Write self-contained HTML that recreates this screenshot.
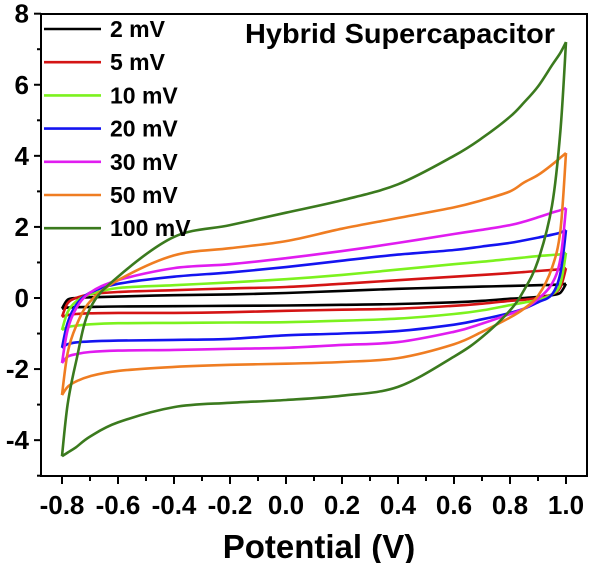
<!DOCTYPE html>
<html><head><meta charset="utf-8"><style>
html,body{margin:0;padding:0;background:#fff;}
svg{display:block;font-family:"Liberation Sans",Arial,sans-serif;font-weight:bold;}
</style></head><body>
<svg id="chart" width="590" height="563" viewBox="0 0 590 563"></svg>
<script>
const potentials = [-0.8,-0.78,-0.75,-0.7,-0.6,-0.4,-0.2,0,0.2,0.4,0.6,0.7,0.8,0.85,0.9,0.95,0.98,1.0];
const seriesNames = ["2 mV","5 mV","10 mV","20 mV","30 mV","50 mV","100 mV"];
const upper2 = [-0.3,-0.05,0.0,0.02,0.04,0.08,0.1,0.14,0.2,0.26,0.3,0.32,0.34,0.35,0.36,0.37,0.38,0.4];
const lower2 = [-0.3,-0.27,-0.26,-0.25,-0.24,-0.23,-0.22,-0.21,-0.19,-0.17,-0.12,-0.08,-0.02,0.0,0.03,0.08,0.15,0.4];
const upper5 = [-0.53,-0.15,0.0,0.1,0.17,0.22,0.27,0.31,0.4,0.5,0.6,0.65,0.7,0.73,0.76,0.79,0.81,0.84];
const lower5 = [-0.53,-0.48,-0.45,-0.43,-0.42,-0.42,-0.4,-0.36,-0.33,-0.3,-0.22,-0.16,-0.08,-0.05,0.0,0.1,0.3,0.84];
const upper10 = [-0.9,-0.4,-0.1,0.1,0.28,0.36,0.44,0.53,0.65,0.8,0.95,1.02,1.1,1.14,1.18,1.21,1.23,1.27];
const lower10 = [-0.9,-0.82,-0.78,-0.74,-0.71,-0.7,-0.69,-0.68,-0.64,-0.58,-0.45,-0.35,-0.2,-0.13,-0.05,0.1,0.4,1.27];
const upper20 = [-1.4,-0.7,-0.2,0.15,0.4,0.6,0.72,0.87,1.05,1.22,1.35,1.45,1.55,1.62,1.7,1.78,1.84,1.91];
const lower20 = [-1.4,-1.3,-1.25,-1.22,-1.2,-1.18,-1.15,-1.05,-1.0,-0.93,-0.75,-0.6,-0.42,-0.3,-0.12,0.1,0.7,1.91];
const upper30 = [-1.83,-0.9,-0.3,0.15,0.5,0.84,0.95,1.12,1.32,1.55,1.8,1.92,2.05,2.15,2.27,2.4,2.47,2.53];
const lower30 = [-1.83,-1.65,-1.58,-1.52,-1.48,-1.46,-1.43,-1.4,-1.32,-1.24,-0.95,-0.72,-0.45,-0.3,-0.03,0.4,1.1,2.53];
const upper50 = [-2.73,-1.55,-0.8,-0.1,0.5,1.2,1.4,1.6,1.95,2.25,2.55,2.75,3.0,3.25,3.46,3.75,3.95,4.08];
const lower50 = [-2.73,-2.5,-2.35,-2.2,-2.05,-1.94,-1.88,-1.85,-1.8,-1.69,-1.3,-0.95,-0.55,-0.3,0.06,0.85,1.9,4.08];
const upper100 = [-4.45,-3.0,-1.8,-0.3,0.6,1.72,2.05,2.4,2.75,3.2,4.0,4.5,5.1,5.5,5.95,6.55,6.9,7.2];
const lower100 = [-4.45,-4.35,-4.2,-3.9,-3.5,-3.07,-2.95,-2.87,-2.75,-2.5,-1.65,-1.1,-0.35,0.22,1.05,2.6,4.7,7.2];
const yTickLabels = ["-4","-2","0","2","4","6","8"];
const xTickLabels = ["-0.8","-0.6","-0.4","-0.2","0.0","0.2","0.4","0.6","0.8","1.0"];

const upperAll=[upper2,upper5,upper10,upper20,upper30,upper50,upper100];
const lowerAll=[lower2,lower5,lower10,lower20,lower30,lower50,lower100];
const colors=["#000000","#d41414","#7cf21e","#1414f0","#e01cf0","#ef7d22","#3b7a1e"];
const L=41,R=587,T=14,B=476;
const X=v=>62+(v+0.8)*280;
const Y=v=>298-v*35.54;
const NS="http://www.w3.org/2000/svg";
const svg=document.getElementById('chart');
function mk(tag,attrs,parent){const e=document.createElementNS(NS,tag);for(const k in attrs)e.setAttribute(k,attrs[k]);(parent||svg).appendChild(e);return e;}
function smooth(pts){let d="M"+pts[0][0].toFixed(1)+","+pts[0][1].toFixed(1);
 for(let i=0;i<pts.length-1;i++){const p0=pts[Math.max(0,i-1)],p1=pts[i],p2=pts[i+1],p3=pts[Math.min(pts.length-1,i+2)];
  const c1=[p1[0]+(p2[0]-p0[0])/6,p1[1]+(p2[1]-p0[1])/6],c2=[p2[0]-(p3[0]-p1[0])/6,p2[1]-(p3[1]-p1[1])/6];
  d+="C"+c1.map(n=>n.toFixed(1))+" "+c2.map(n=>n.toFixed(1))+" "+p2[0].toFixed(1)+","+p2[1].toFixed(1);}
 return d;}
for(let s=0;s<7;s++){
 const g=mk('g',{});
 
 
 const up=potentials.map((p,i)=>[X(p),Y(upperAll[s][i])]);
 const lo=potentials.map((p,i)=>[X(p),Y(lowerAll[s][i])]);
 const a=mk('path',{d:smooth(up),fill:'none',stroke:colors[s],'stroke-width':2.6,'stroke-linejoin':'round'},g);
 
 
 const b=mk('path',{d:smooth(lo),fill:'none',stroke:colors[s],'stroke-width':2.6,'stroke-linejoin':'round'},g);
 
 
}
const fr=mk('rect',{x:L,y:T,width:R-L,height:B-T,fill:'none',stroke:'#000','stroke-width':2});


for(let v=-5;v<=8;v++){
 const major=(v%2===0);
 mk('line',{x1:L,x2:L-(major?7:4),y1:Y(v),y2:Y(v),stroke:'#000','stroke-width':2});
}
yTickLabels.forEach(t=>{const e=mk('text',{x:29,y:Y(+t)+9,'text-anchor':'end','font-size':26});e.textContent=t;
 
 });
for(let i=0;i<=18;i++){const v=-0.8+i*0.1;const major=(i%2===0);
 mk('line',{x1:X(v),x2:X(v),y1:B,y2:B+(major?8:5),stroke:'#000','stroke-width':2});}
xTickLabels.forEach(t=>{const e=mk('text',{x:X(+t),y:514,'text-anchor':'middle','font-size':26});e.textContent=t;
 
 });
const xt=mk('text',{x:319,y:558,'text-anchor':'middle','font-size':33});xt.textContent="Potential (V)";


const tt=mk('text',{x:245,y:43,'font-size':28,textLength:310,lengthAdjust:'spacingAndGlyphs'});tt.textContent="Hybrid Supercapacitor";


for(let s=0;s<7;s++){const y=29+s*33.2;
 const g=mk('g',{});
 
 
 mk('line',{x1:44,x2:101,y1:y,y2:y,stroke:colors[s],'stroke-width':2.6},g);
 const t=mk('text',{x:110,y:y+8,'font-size':23},g);t.textContent=seriesNames[s];}
</script>
</body></html>
